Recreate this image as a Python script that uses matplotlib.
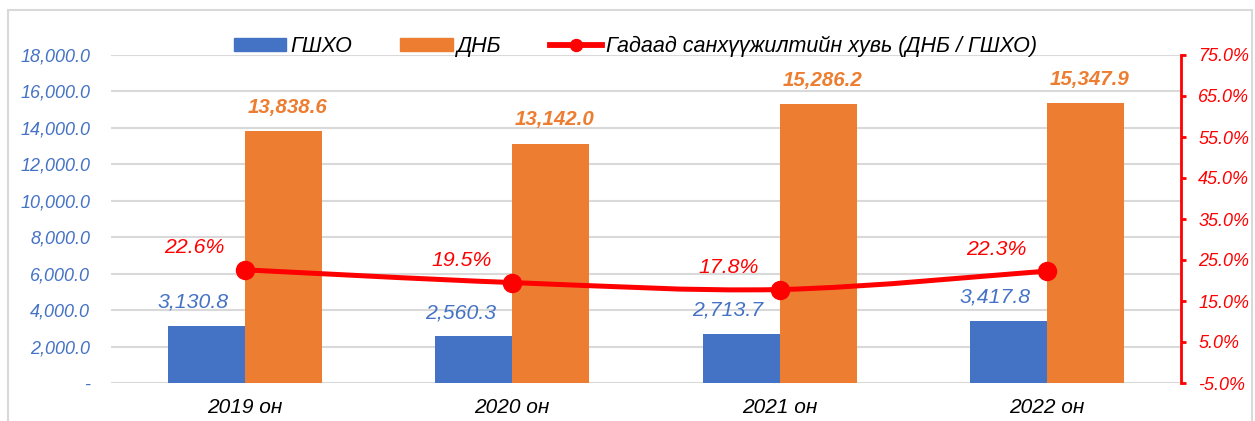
#
# Bar + smoothed line chart: ГШХО / ДНБ and their ratio
#

import matplotlib.pyplot as plt
import numpy as np
from matplotlib.path import Path
from matplotlib.patches import PathPatch, Rectangle
from matplotlib.lines import Line2D
from matplotlib.ticker import FuncFormatter

years = ['2019 он', '2020 он', '2021 он', '2022 он']
fdi = [3130.8, 2560.3, 2713.7, 3417.8]          # ГШХО
gni = [13838.6, 13142.0, 15286.2, 15347.9]      # ДНБ
ratio = [22.6, 19.5, 17.8, 22.3]                # ДНБ / ГШХО, %

BLUE = '#4472C4'
ORANGE = '#ED7D31'
RED = '#FF0000'
GRID = '#D9D9D9'

plt.rcParams['font.family'] = ['Liberation Sans', 'DejaVu Sans']

fig = plt.figure(figsize=(12.55, 4.21), dpi=100)
ax = fig.add_axes([111 / 1255, 1 - 383 / 421, 1070 / 1255, 328 / 421])

# outer chart border like the Excel chart area
fig.patches.append(Rectangle((8 / 1255, -0.05), 1244 / 1255, 1.05 - 10 / 421,
                             transform=fig.transFigure, fill=False,
                             edgecolor=GRID, linewidth=1.5))

x = np.arange(len(years))
w = 0.288
ax.bar(x - w / 2, fdi, w, color=BLUE, zorder=2)
ax.bar(x + w / 2, gni, w, color=ORANGE, zorder=2)

ax.set_xlim(-0.5, len(years) - 0.5)
ax.set_ylim(0, 18000)
ax.set_yticks(np.arange(0, 18001, 2000))
ax.yaxis.set_major_formatter(FuncFormatter(
    lambda v, p: '-' if v == 0 else f'{v:,.1f}'))
ax.grid(axis='y', color=GRID, linewidth=1.5, zorder=0)
ax.set_axisbelow(True)
for s in ['top', 'right', 'left', 'bottom']:
    ax.spines[s].set_visible(False)
ax.tick_params(axis='y', length=0, pad=15, labelsize=13, labelcolor=BLUE)
ax.tick_params(axis='x', length=0, pad=11, labelsize=15)
for lbl in ax.get_yticklabels():
    lbl.set_fontstyle('italic')
ax.set_xticks(x)
ax.set_xticklabels(years, fontstyle='italic')

# value labels (Excel placed them a bit off-centre)
for xi, v in zip(x, fdi):
    ax.annotate(f'{v:,.1f}', (xi - w / 2, v), xytext=(-9.5, 17),
                textcoords='offset points', ha='center', va='center',
                color=BLUE, fontsize=15.3, fontstyle='italic')
for xi, v in zip(x, gni):
    ax.annotate(f'{v:,.1f}', (xi + w / 2, v), xytext=(3, 17),
                textcoords='offset points', ha='center', va='center',
                color=ORANGE, fontsize=14.8, fontstyle='italic',
                fontweight='bold')

# right axis with ratio
ax2 = ax.twinx()
ax2.set_ylim(-5, 75)
ax2.set_yticks(np.arange(-5, 76, 10))
ax2.yaxis.set_major_formatter(FuncFormatter(lambda v, p: f'{v:.1f}%'))
for s in ['top', 'left', 'bottom']:
    ax2.spines[s].set_visible(False)
ax2.spines['right'].set_color(RED)
ax2.spines['right'].set_linewidth(2)
ax2.tick_params(axis='y', colors=RED, width=2, length=3.5, pad=9,
                labelsize=13)
for lbl in ax2.get_yticklabels():
    lbl.set_fontstyle('italic')

# smoothed line (Bezier through the points, like Excel's smooth line)
pts = np.column_stack([x, ratio]).astype(float)
ext = np.vstack([pts[0], pts, pts[-1]])
verts = [tuple(pts[0])]
codes = [Path.MOVETO]
for i in range(len(pts) - 1):
    p0, p1, p2, p3 = ext[i], ext[i + 1], ext[i + 2], ext[i + 3]
    c1 = p1 + (p2 - p0) / 6
    c2 = p2 - (p3 - p1) / 6
    verts += [tuple(c1), tuple(c2), tuple(p2)]
    codes += [Path.CURVE4] * 3
ax2.add_patch(PathPatch(Path(verts, codes), facecolor='none',
                        edgecolor=RED, linewidth=3.6, zorder=3,
                        capstyle='round'))
ax2.plot(x, ratio, linestyle='none', marker='o', markersize=13,
         color=RED, zorder=4)
for xi, v in zip(x, ratio):
    ax2.annotate(f'{v:.1f}%', (xi, v), xytext=(-36.5, 15.8),
                 textcoords='offset points', ha='center', va='center',
                 color=RED, fontsize=15.3, fontstyle='italic')

# legend
handles = [Rectangle((0, 0), 1, 1, color=BLUE),
           Rectangle((0, 0), 1, 1, color=ORANGE),
           Line2D([], [], color=RED, linewidth=4.2, marker='o',
                  markersize=8.6)]
labels = ['ГШХО', 'ДНБ', 'Гадаад санхүүжилтийн хувь (ДНБ / ГШХО)']
leg = fig.legend(handles, labels, loc='center', ncol=3,
                 bbox_to_anchor=(635.5 / 1255, 1 - 46.5 / 421), frameon=False,
                 prop={'size': 15.5, 'style': 'italic'},
                 handlelength=2.42, handleheight=0.5, columnspacing=2.25,
                 handletextpad=0.2, borderpad=0)

fig.savefig('out.png', dpi=100)
